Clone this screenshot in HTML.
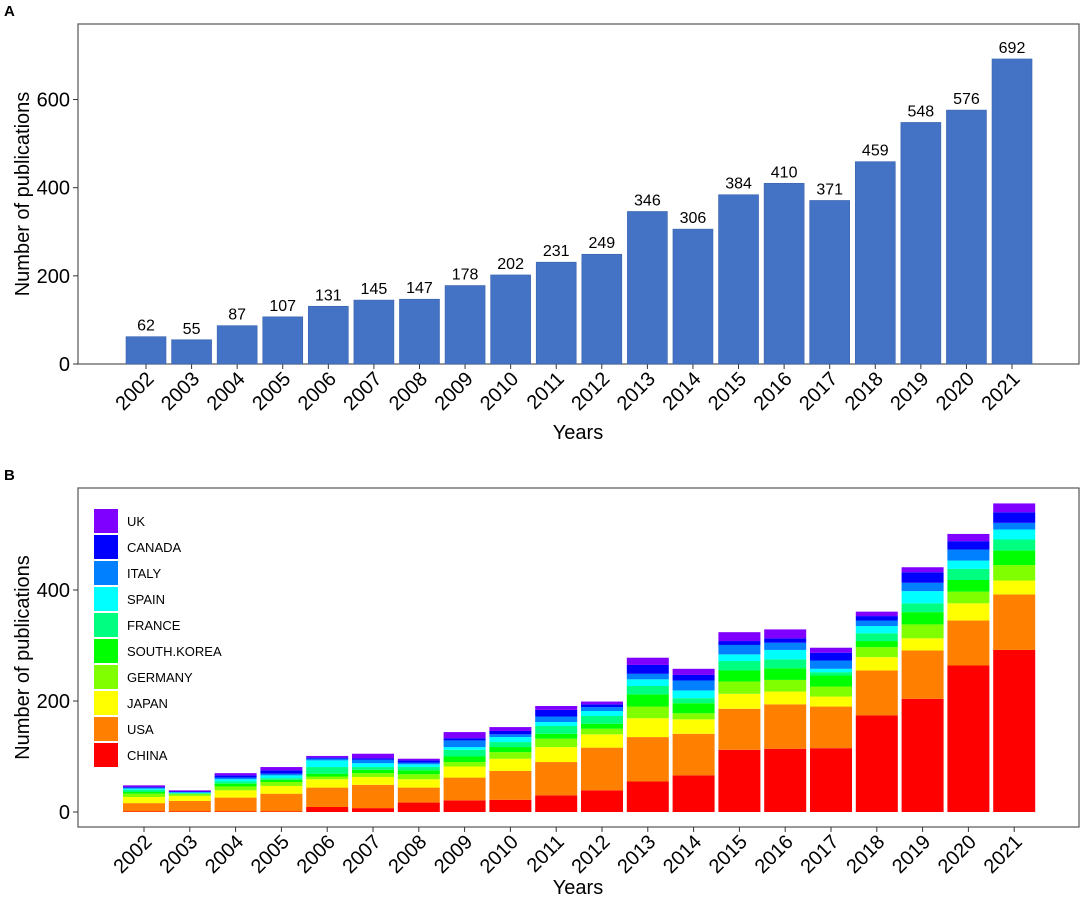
<!DOCTYPE html>
<html><head><meta charset="utf-8"><style>
body{margin:0;background:#fff;}
svg{display:block;font-family:"Liberation Sans",Arial,sans-serif;}
</style></head><body>
<svg id="fig" width="1084" height="905" xmlns="http://www.w3.org/2000/svg"></svg>
<script>
const years=["2002","2003","2004","2005","2006","2007","2008","2009","2010","2011","2012","2013","2014","2015","2016","2017","2018","2019","2020","2021"];
const totals=[62,55,87,107,131,145,147,178,202,231,249,346,306,384,410,371,459,548,576,692];
const ticksA=[0,200,400,600];
const ticksB=[0,200,400];
const countries=["CHINA","USA","JAPAN","GERMANY","SOUTH.KOREA","FRANCE","SPAIN","ITALY","CANADA","UK"];
const china=[1,1,1,1,9,7,17,21,22,30,39,55,66,112,114,115,174,204,264,292];
const usa=[15,19,25,32,35,42,27,41,52,60,77,80,75,74,80,75,81,87,81,100];
const japan=[11,9,13,14,15,14,15,20,22,27,24,34,26,27,23,18,24,22,31,25];
const germany=[6,3,7,7,5,7,9,8,12,15,10,21,11,22,21,18,18,25,21,28];
const korea=[3,1,5,4,5,6,7,10,9,9,9,22,18,20,21,20,11,22,21,26];
const france=[4,1,4,3,12,5,6,12,9,14,14,15,9,17,16,6,14,16,20,20];
const spain=[2,1,4,5,12,7,5,5,9,7,9,12,14,12,17,6,13,22,15,18];
const italy=[2,1,3,3,3,6,3,12,5,10,7,10,18,17,13,15,10,15,20,12];
const canada=[1,1,4,6,2,3,4,4,6,12,5,16,10,7,8,14,8,19,15,19];
const uk=[3,2,4,6,3,8,3,11,7,7,5,13,11,16,16,9,8,9,13,16];
const series=[china,usa,japan,germany,korea,france,spain,italy,canada,uk];
const colors=["#FF0000","#FF8000","#FFFF00","#80FF00","#00FF00","#00FF80","#00FFFF","#0080FF","#0000FF","#8000FF"];

const NS="http://www.w3.org/2000/svg";
const svg=document.getElementById('fig');
function mk(tag,attrs,parent){const e=document.createElementNS(NS,tag);for(const k in attrs)e.setAttribute(k,attrs[k]);(parent||svg).appendChild(e);return e;}

function panel(o){
  const g=mk('g',{});
  
  
  const y=v=>o.y0-v*o.ppu;
  const x=i=>o.x0+i*o.step;
  const L=mk('text',{x:4,y:o.top-8,'font-size':15,'font-weight':'bold',fill:'#000'},g);L.textContent=o.letter;
  
  
  const fr=mk('rect',{x:78,y:o.top,width:1001,height:o.bottom-o.top,fill:'#fff',stroke:'#555','stroke-width':1.2},g);
  
  
  o.ticks.forEach(t=>{
    mk('line',{x1:73,x2:78,y1:y(t),y2:y(t),stroke:'#333'},g);
    const tx=mk('text',{x:70,y:y(t)+7,'text-anchor':'end','font-size':20,fill:'#000'},g);tx.textContent=t;
    
    
  });
  years.forEach((yr,i)=>{
    mk('line',{x1:x(i),x2:x(i),y1:o.bottom,y2:o.bottom+5,stroke:'#333'},g);
    const tx=mk('text',{transform:`translate(${x(i)+9},${o.bottom+16}) rotate(-45)`,'text-anchor':'end','font-size':20,fill:'#000'},g);tx.textContent=yr;
    
    
  });
  const xt=mk('text',{x:578,y:o.bottom+o.titleOff,'text-anchor':'middle','font-size':20,fill:'#000'},g);xt.textContent='Years';
  
  
  const cy=(o.top+o.bottom)/2;
  const yt=mk('text',{transform:`translate(29,${cy}) rotate(-90)`,'text-anchor':'middle','font-size':20,fill:'#000'},g);yt.textContent='Number of publications';
  
  
  return {g,x,y};
}

const A=panel({name:'panel-a',letter:'A',top:24,bottom:364,y0:364,ppu:0.4408,x0:146,step:45.58,ticks:ticksA,titleOff:75});
totals.forEach((v,i)=>{
  const r=mk('rect',{x:A.x(i)-20,y:A.y(v),width:40,height:v*0.4408,fill:'#4472C4',stroke:'#3a63b0','stroke-width':0.6},A.g);
  
  
  const t=mk('text',{x:A.x(i),y:A.y(v)-6,'text-anchor':'middle','font-size':16,fill:'#000'},A.g);t.textContent=v;
  
  
});

const B=panel({name:'panel-b',letter:'B',top:488,bottom:827,y0:812,ppu:0.555,x0:144,step:45.8,ticks:ticksB,titleOff:67});
years.forEach((yr,i)=>{
  let cum=0;
  series.forEach((s,k)=>{
    const v=s[i];
    const r=mk('rect',{x:B.x(i)-21,y:B.y(cum+v),width:42,height:v*0.555,fill:colors[k]},B.g);
    
    
    cum+=v;
  });
});
const lg=mk('g',{},B.g);


for(let k=9;k>=0;k--){
  const row=9-k;
  const yy=509+row*26;
  const r=mk('rect',{x:94,y:yy,width:24,height:24,fill:colors[k]},lg);
  
  
  const t=mk('text',{x:127,y:yy+17,'font-size':13,fill:'#000'},lg);t.textContent=countries[k];
  
  
}
</script>
</body></html>
